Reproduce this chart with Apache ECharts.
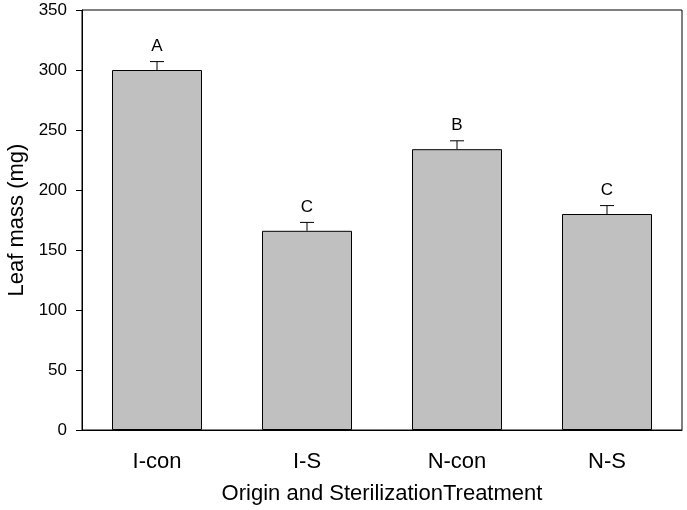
<!DOCTYPE html>
<html>
<head>
<meta charset="utf-8">
<script src="https://cdn.jsdelivr.net/npm/echarts@6/dist/echarts.min.js"></script>
<style>
  html, body { margin: 0; padding: 0; background: #fff; }
  #chart { width: 687px; height: 510px; }
</style>
</head>
<body>
<div id="chart"></div>
<script>
// data
const categories = ['I-con', 'I-S', 'N-con', 'N-S'];
const leafMass = [300, 166, 234, 180];
const errUp = [7, 7, 7, 7];
const letters = ['A', 'C', 'B', 'C'];
const yTicks = [0, 50, 100, 150, 200, 250, 300, 350];

const font = '"Liberation Sans", Arial, sans-serif';
const chart = echarts.init(document.getElementById('chart'));

// error bar + letter, drawn through the axes
function renderErr(params, api) {
  const i = api.value(0);
  const top = api.value(1) + api.value(2);
  const base = api.coord([i, api.value(1)]);
  const cap = api.coord([i, top]);
  const half = 7;
  return {
    type: 'group',
    children: [
      { type: 'line', shape: { x1: base[0], y1: base[1], x2: cap[0], y2: cap[1] },
        style: { stroke: '#000', lineWidth: 1 } },
      { type: 'line', shape: { x1: cap[0] - half, y1: cap[1], x2: cap[0] + half, y2: cap[1] },
        style: { stroke: '#000', lineWidth: 1 } },
      { type: 'text', x: cap[0], y: cap[1] - 7,
        style: { text: letters[i], fill: '#000', font: '17px ' + font,
                 align: 'center', verticalAlign: 'bottom' } }
    ]
  };
}

chart.setOption({
  animation: false,
  textStyle: { fontFamily: font },
  grid: { left: 82, right: 5, top: 10, bottom: 80, show: true,
          containLabel: false, outerBoundsMode: 'none',
          borderColor: '#000', borderWidth: 1, backgroundColor: 'transparent' },
  xAxis: {
    type: 'category',
    data: categories,
    name: 'Origin and SterilizationTreatment',
    nameLocation: 'middle',
    nameGap: 53,
    nameTextStyle: { fontSize: 22, color: '#000', fontFamily: font },
    axisLine: { lineStyle: { color: '#000', width: 1 } },
    axisTick: { alignWithLabel: true, length: 6, lineStyle: { color: '#000' } },
    axisLabel: { fontSize: 22, color: '#000', margin: 21, fontFamily: font },
    splitLine: { show: false }
  },
  yAxis: {
    type: 'value',
    min: yTicks[0],
    max: yTicks[yTicks.length - 1],
    interval: 50,
    name: 'Leaf mass (mg)',
    nameLocation: 'middle',
    nameGap: 53,
    nameTextStyle: { fontSize: 22, color: '#000', fontFamily: font },
    axisLine: { show: true, lineStyle: { color: '#000', width: 1 } },
    axisTick: { show: true, length: 6, lineStyle: { color: '#000' } },
    axisLabel: { fontSize: 17, color: '#000', margin: 15, fontFamily: font },
    splitLine: { show: false }
  },
  series: [
    {
      type: 'bar',
      data: leafMass,
      barWidth: '60%',
      itemStyle: { color: '#c0c0c0', borderColor: '#000', borderWidth: 1 },
      z: 2
    },
    {
      type: 'custom',
      renderItem: renderErr,
      data: leafMass.map((v, i) => [i, v, errUp[i]]),
      z: 3
    }
  ]
});
</script>
</body>
</html>
